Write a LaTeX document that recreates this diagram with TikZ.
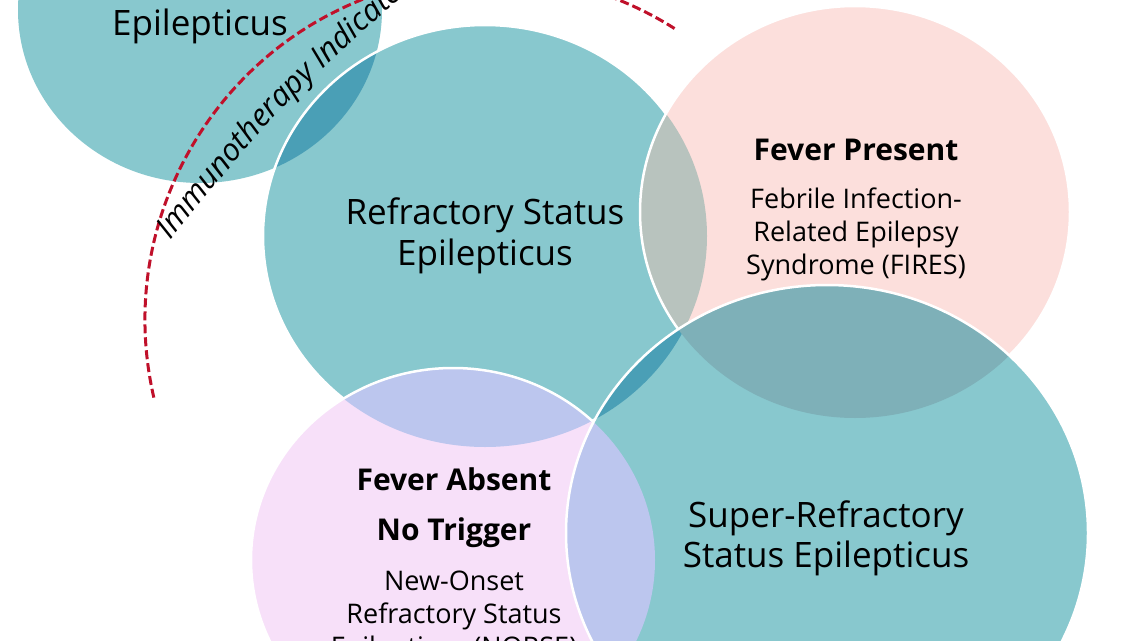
\documentclass[tikz,border=0pt]{standalone}
\usepackage{fontspec}
\setmainfont{Open Sans}
\usetikzlibrary{positioning, decorations.text}
\definecolor{seteal}{HTML}{88C8CE}
\definecolor{lensteal}{HTML}{4A9FB6}
\definecolor{firespink}{HTML}{FCDFDC}
\definecolor{norselilac}{HTML}{F7E0F9}
\definecolor{greymix}{HTML}{B8C3BE}
\definecolor{duskmix}{HTML}{7EB0B8}
\definecolor{bluemix}{HTML}{BCC6EE}
\definecolor{immunored}{HTML}{C0102A}
\tikzstyle{rim} = [draw=white, line width=2.5pt]
\tikzstyle{bigtext} = [font=\fontsize{35}{41}\selectfont, anchor=base, inner sep=0pt]
\tikzstyle{boldtext} = [font=\bfseries\fontsize{30}{36}\selectfont, anchor=base, inner sep=0pt]
\tikzstyle{smalltext} = [font=\fontsize{27}{33}\selectfont, anchor=base, inner sep=0pt]
\tikzstyle{immuno} = [draw=immunored, line width=3pt, dash pattern=on 9pt off 4pt]
\newcommand{\pathSE}{(200,10) ellipse [x radius=182pt, y radius=173pt]}
\newcommand{\pathRSE}{(485,236) ellipse [x radius=222pt, y radius=211pt]}
\newcommand{\pathFIRES}{(855,212) ellipse [x radius=215pt, y radius=206pt]}
\newcommand{\pathNORSE}{(453,560) ellipse [x radius=202pt, y radius=192pt]}
\newcommand{\pathSRSE}{(827,533) ellipse [x radius=261pt, y radius=248pt]}

\begin{document}
\begin{tikzpicture}[x=1pt, y=-1pt]
\useasboundingbox (0,0) rectangle (1138,640);
\fill[white] (0,0) rectangle (1138,640);

\fill[seteal] \pathSE;
\fill[seteal] \pathRSE;
\begin{scope} \clip \pathSE; \fill[lensteal] \pathRSE; \end{scope}
\draw[rim] \pathRSE;

\fill[firespink] \pathFIRES;
\begin{scope} \clip \pathRSE; \fill[greymix] \pathFIRES; \end{scope}
\draw[rim] \pathFIRES;

\fill[norselilac] \pathNORSE;
\begin{scope} \clip \pathRSE; \fill[bluemix] \pathNORSE; \end{scope}
\draw[rim] \pathNORSE;

\fill[seteal] \pathSRSE;
\begin{scope} \clip \pathRSE; \fill[lensteal] \pathSRSE; \end{scope}
\begin{scope} \clip \pathFIRES; \fill[duskmix] \pathSRSE; \end{scope}
\begin{scope} \clip \pathNORSE; \fill[bluemix] \pathSRSE; \end{scope}
\draw[rim] \pathSRSE;

\coordinate (arccentre) at (490,320);
\draw[immuno] (arccentre) ++(193:345pt) arc[start angle=193, end angle=57.5, radius=345pt];
\path[decorate, decoration={text along path, text={|\itshape\fontsize{31}{36}\selectfont|Immunotherapy Indicated}}]
  (170,240) .. controls (285,100) .. (450,-45);

\node (se1) [bigtext] at (200,35) {Epilepticus};

\node (rse1) [bigtext] at (485,224) {Refractory Status};
\node (rse2) [bigtext, below=41pt of rse1.base, anchor=base] {Epilepticus};

\node (fires1) [boldtext] at (856,160) {Fever Present};
\node (fires2) [smalltext, below=48pt of fires1.base, anchor=base] {Febrile Infection-};
\node (fires3) [smalltext, below=33pt of fires2.base, anchor=base] {Related Epilepsy};
\node (fires4) [smalltext, below=33pt of fires3.base, anchor=base] {Syndrome (FIRES)};

\node (norse1) [boldtext] at (454,490) {Fever Absent};
\node (norse2) [boldtext, below=50pt of norse1.base, anchor=base] {No Trigger};
\node (norse3) [smalltext, below=50pt of norse2.base, anchor=base] {New-Onset};
\node (norse4) [smalltext, below=33pt of norse3.base, anchor=base] {Refractory Status};
\node (norse5) [smalltext, below=33pt of norse4.base, anchor=base] {Epilepticus (NORSE)};

\node (srse1) [bigtext] at (826,527) {Super-Refractory};
\node (srse2) [bigtext, below=40pt of srse1.base, anchor=base] {Status Epilepticus};
\end{tikzpicture}
\end{document}
